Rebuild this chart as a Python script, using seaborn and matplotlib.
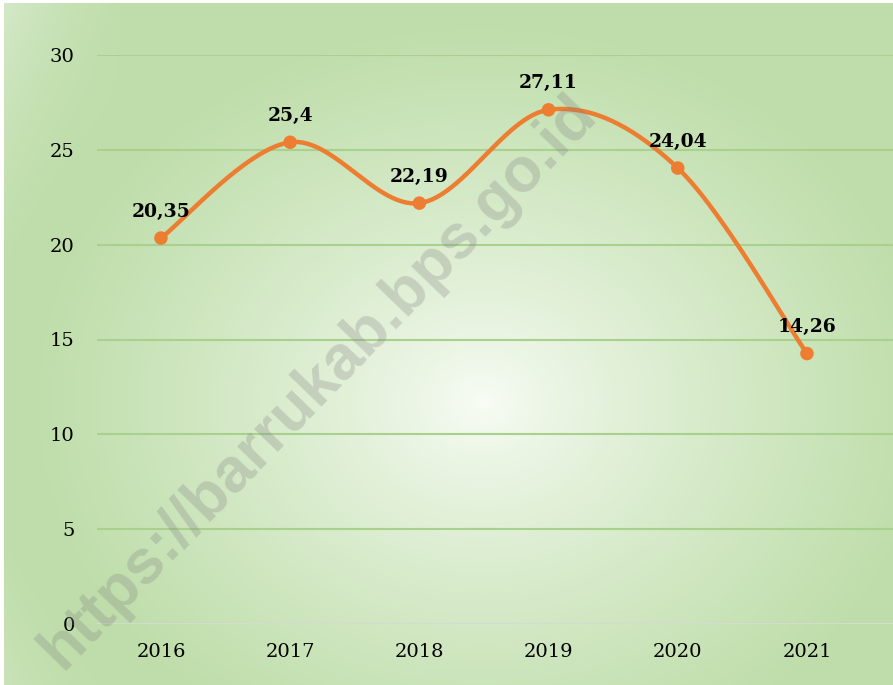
import numpy as np
import matplotlib
matplotlib.use("Agg")
import matplotlib.pyplot as plt
import seaborn as sns

# --- DATA ---
years = ["2016", "2017", "2018", "2019", "2020", "2021"]
values = [20.35, 25.4, 22.19, 27.11, 24.04, 14.26]
y_ticks = [0, 5, 10, 15, 20, 25, 30]

LINE_COLOR = "#ED7D31"
GRID_COLOR = "#a9d18e"
SERIF = "DejaVu Serif"

sns.set_theme(style="white")
plt.rcParams["font.family"] = [SERIF, "DejaVu Sans"]

W, H = 893, 685
fig = plt.figure(figsize=(W / 100, H / 100), dpi=100, facecolor="white")

# --- background: radial gradient, white centre -> green edges ---
bg = fig.add_axes([4 / W, 0, 1 - 4 / W, 1 - 3 / H], zorder=0)
gx, gy = np.meshgrid(np.arange(W), np.arange(H))
r = np.sqrt(((gx - 480) / 560.0) ** 2 + ((gy - 400) / 470.0) ** 2)
white = np.array([0.975, 0.99, 0.965])
green = np.array([0.75, 0.87, 0.67])
light = np.array([0.83, 0.91, 0.78])
t1 = np.clip(r / 0.8, 0, 1) ** 0.8
# paler band only towards the far left edge
t2 = np.clip((r - 0.9) / 0.3, 0, 1) * np.clip((120 - gx) / 120, 0, 1)
img = white * (1 - t1[..., None]) + green * t1[..., None]
img = img * (1 - t2[..., None]) + light * t2[..., None]
bg.imshow(img, aspect="auto", extent=[0, 1, 0, 1], origin="upper")
bg.set_axis_off()

# --- main axes ---
ax = fig.add_axes([97 / W, (H - 624) / H, 1 - 97 / W, (624 - 55) / H], zorder=2)
ax.set_facecolor("none")

idx = np.arange(len(values))
vals = np.array(values)

# smoothed line (Catmull-Rom style bezier, as in office charts)
px = np.concatenate([[idx[0]], idx, [idx[-1]]]).astype(float)
py = np.concatenate([[vals[0]], vals, [vals[-1]]])
sx, sy = [], []
tt = np.linspace(0, 1, 60)
for i in range(len(values) - 1):
    p0 = np.array([px[i + 1], py[i + 1]])
    p3 = np.array([px[i + 2], py[i + 2]])
    c1 = p0 + (np.array([px[i + 2], py[i + 2]]) - np.array([px[i], py[i]])) / 6
    c2 = p3 - (np.array([px[i + 3], py[i + 3]]) - np.array([px[i + 1], py[i + 1]])) / 6
    b = ((1 - tt) ** 3)[:, None] * p0 + (3 * (1 - tt) ** 2 * tt)[:, None] * c1 \
        + (3 * (1 - tt) * tt ** 2)[:, None] * c2 + (tt ** 3)[:, None] * p3
    sx.extend(b[:, 0])
    sy.extend(b[:, 1])

sns.lineplot(x=sx, y=sy, ax=ax, color=LINE_COLOR, linewidth=3.2, sort=False,
             estimator=None, zorder=3, clip_on=False)
sns.scatterplot(x=idx, y=vals, ax=ax, color=LINE_COLOR, s=95, edgecolor="none",
                zorder=4, clip_on=False)

for i, v in zip(idx, values):
    ax.annotate(f"{v:g}".replace(".", ","), (i, v), xytext=(0, 19),
                textcoords="offset points", ha="center", va="center",
                fontsize=13.5, fontweight="bold", color="black", zorder=5)

ax.set_xlim(-0.495, 5.666)
ax.set_ylim(0, 30)
ax.set_yticks(y_ticks)
ax.set_xticks(idx)
ax.set_xticklabels(years)
ax.tick_params(axis="both", length=0, labelsize=14, colors="black")
ax.tick_params(axis="y", pad=16)
ax.tick_params(axis="x", pad=14)
ax.grid(axis="y", color=GRID_COLOR, linewidth=1.5)
ax.grid(axis="x", visible=False)
ax.axhline(0, color="#dcdcdc", linewidth=2, zorder=2.5)
for sp in ax.spines.values():
    sp.set_visible(False)
ax.set_xlabel("")
ax.set_ylabel("")

# --- watermark ---
fig.text(318 / W, 1 - 382 / H, "https://barrukab.bps.go.id", rotation=46,
         ha="center", va="center", fontsize=45, fontweight="bold",
         family="Liberation Sans", color="#808080", alpha=0.28, zorder=6)

fig.savefig("out.png", dpi=100)
